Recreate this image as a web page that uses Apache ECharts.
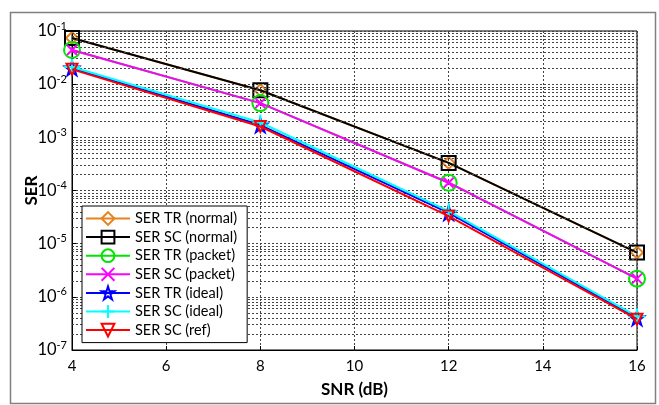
<!DOCTYPE html>
<html>
<head>
<meta charset="utf-8">
<script src="https://cdn.jsdelivr.net/npm/echarts@6/dist/echarts.min.js"></script>
<style>
  html, body { margin: 0; padding: 0; background: #fff; }
  #chart { width: 659px; height: 405px; }
</style>
</head>
<body>
<div id="chart"></div>
<script>
// SNR points (dB)
const snr = [4, 8, 12, 16];

// SER values
const serTrNormal = [0.074, 0.0077, 3.3e-4, 6.8e-6];
const serScNormal = [0.074, 0.0077, 3.3e-4, 6.8e-6];
const serTrPacket = [0.044, 4.4e-3, 1.4e-4, 2.2e-6];
const serScPacket = [0.044, 4.4e-3, 1.4e-4, 2.2e-6];
const serTrIdeal  = [0.020, 1.7e-3, 3.8e-5, 4.0e-7];
const serScIdeal  = [0.021, 1.9e-3, 4.1e-5, 4.3e-7];
const serScRef    = [0.019, 1.6e-3, 3.3e-5, 3.8e-7];

const names = [
    "SER TR (normal)", "SER SC (normal)",
    "SER TR (packet)", "SER SC (packet)",
    "SER TR (ideal)", "SER SC (ideal)",
    "SER SC (ref)"
];

const FONT = "Lato";

// marker shapes
const xMark = "path://M0,0 L10,10 M10,0 L0,10";
const plusMark = "path://M5,0 L5,10 M0,5 L10,5";
const starMark = "path://M5,0 L6.2,3.6 L10,3.6 L6.9,5.9 L8.1,9.5 L5,7.3 L1.9,9.5 L3.1,5.9 L0,3.6 L3.8,3.6 Z";
const downTri = "path://M0,0 L10,0 L5,9 Z";

function pairs(vals){
    return snr.map((s, i) => [s, vals[i]]);
}

function mk(name, vals, color, symbol, size, z){
    return {
        name: name,
        type: "line",
        data: pairs(vals),
        symbol: symbol,
        symbolSize: size,
        showAllSymbol: true,
        z: z,
        lineStyle: { color: color, width: 2 },
        itemStyle: { color: "rgba(0,0,0,0)", borderColor: color, borderWidth: 2 },
        emphasis: { disabled: true }
    };
}

// minor log grid lines (2..9 per decade), placed on a hidden
// linear axis that runs over log10 of the SER range
let minorLines = [];
for(let d = -7; d < -1; d++){
    for(let m = 2; m <= 9; m++){
        minorLines.push({ yAxis: d + Math.log10(m) });
    }
}

const gridLine = { color: "#444", type: [2, 2], width: 1 };

const chart = echarts.init(document.getElementById("chart"));

chart.setOption({
    animation: false,
    textStyle: { fontFamily: FONT },

    graphic: [
        {
            type: "rect",
            left: 8, top: 10,
            shape: { width: 645, height: 391 },
            style: { fill: "none", stroke: "#808080", lineWidth: 1.5 },
            silent: true
        }
    ],

    grid: {
        left: 72, right: 22, top: 31, bottom: 55,
        show: true,
        borderColor: "#000",
        borderWidth: 1
    },

    legend: {
        data: names,
        orient: "vertical",
        left: 82,
        top: 206,
        itemWidth: 44,
        itemHeight: 16,
        itemGap: 3.6,
        padding: [5, 10, 5, 3],
        backgroundColor: "#fff",
        borderColor: "#000",
        borderWidth: 1,
        borderRadius: 0,
        textStyle: { fontFamily: FONT, fontSize: 14.5, color: "#000" },
        selectedMode: false,
        z: 20
    },

    xAxis: {
        type: "value",
        min: 4,
        max: 16,
        interval: 2,
        name: "SNR (dB)",
        nameLocation: "middle",
        nameGap: 31,
        nameTextStyle: { fontFamily: FONT, fontSize: 17, fontWeight: "bold", color: "#000" },
        axisLine: { lineStyle: { color: "#000" } },
        axisTick: { inside: true, length: 4, lineStyle: { color: "#000" } },
        axisLabel: { fontFamily: FONT, fontSize: 15, color: "#000", margin: 9 },
        splitLine: { show: true, lineStyle: gridLine }
    },

    yAxis: [
        {
            type: "log",
            logBase: 10,
            min: 1e-7,
            max: 1e-1,
            name: "SER",
            nameLocation: "middle",
            nameGap: 32,
            nameMoveOverlap: false,
            nameTextStyle: { fontFamily: FONT, fontSize: 17, fontWeight: "bold", color: "#000" },
            axisLine: { lineStyle: { color: "#000" } },
            axisTick: { inside: true, length: 4, lineStyle: { color: "#000" } },
            axisLabel: {
                margin: 5,
                formatter: function(v){
                    const e = Math.round(Math.log10(v));
                    return "{b|10}{s|" + e + "}";
                },
                rich: {
                    b: { fontFamily: FONT, fontSize: 16.5, color: "#000" },
                    s: { fontFamily: FONT, fontSize: 11, color: "#000", padding: [0, 0, 10, 0] }
                }
            },
            splitLine: { show: true, lineStyle: gridLine }
        },
        {
            type: "value",
            min: -7,
            max: -1,
            show: false,
            splitLine: { show: false }
        }
    ],

    series: [
        {
            name: "minor-grid",
            type: "line",
            yAxisIndex: 1,
            data: [],
            silent: true,
            z: 1,
            markLine: {
                silent: true,
                symbol: "none",
                animation: false,
                label: { show: false },
                lineStyle: gridLine,
                emphasis: { disabled: true },
                data: minorLines
            }
        },
        mk(names[0], serTrNormal, "#E8821E", "diamond", 12, 3),
        mk(names[1], serScNormal, "#000000", "rect", 14, 4),
        mk(names[2], serTrPacket, "#00E600", "circle", 16, 5),
        mk(names[3], serScPacket, "#FF00FF", xMark, 10, 6),
        mk(names[4], serTrIdeal, "#0000FF", starMark, 14, 7),
        mk(names[5], serScIdeal, "#00FFFF", plusMark, 16, 8),
        mk(names[6], serScRef, "#FF0000", downTri, 11, 9)
    ]
});
</script>
</body>
</html>
